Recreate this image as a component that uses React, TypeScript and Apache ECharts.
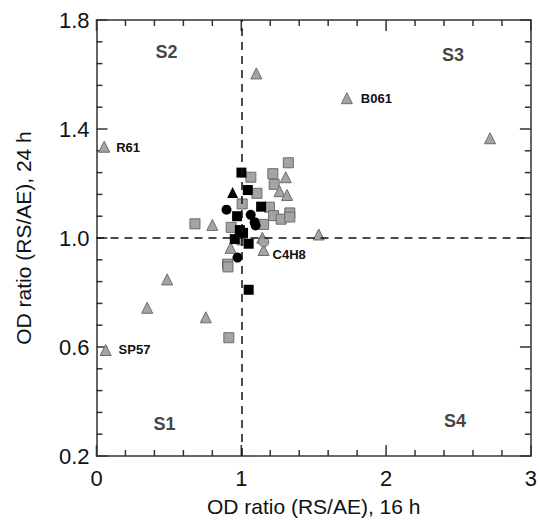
import React, { useEffect, useRef } from "react";
import * as echarts from "echarts";

type Pt = [number, number];

const xTicks = [0, 1, 2, 3];
const yTicks = [0.2, 0.6, 1.0, 1.4, 1.8];
const xMinorTicks = [0.2, 0.4, 0.6, 0.8, 1.2, 1.4, 1.6, 1.8, 2.2, 2.4, 2.6, 2.8];
const yMinorTicks = [
  0.28, 0.36, 0.44, 0.52, 0.68, 0.76, 0.84, 0.92, 1.08, 1.16, 1.24, 1.32, 1.48, 1.56, 1.64, 1.72,
];

const grayTriangles: Pt[] = [
  [0.053, 1.335],
  [0.063, 0.589],
  [1.729, 1.513],
  [1.154, 0.956],
  [1.104, 1.604],
  [2.718, 1.366],
  [1.535, 1.013],
  [0.488, 0.848],
  [0.35, 0.744],
  [0.755, 0.709],
  [0.8, 1.048],
  [0.926, 0.964],
  [1.307, 1.223],
  [1.264, 1.172],
  [1.316, 1.158],
  [1.145, 1.001],
];
const grayTriangleLabels: Record<number, string> = { 0: "R61", 1: "SP57", 2: "B061", 3: "C4H8" };

const grayCircles: Pt[] = [[1.155, 0.986]];

const graySquares: Pt[] = [
  [1.066, 1.223],
  [1.325, 1.276],
  [1.218, 1.236],
  [1.227, 1.197],
  [1.108, 1.164],
  [1.006, 1.125],
  [1.194, 1.113],
  [1.223, 1.082],
  [1.275, 1.069],
  [1.335, 1.092],
  [1.335, 1.077],
  [1.154, 1.05],
  [0.68, 1.052],
  [0.93, 1.039],
  [1.006, 0.993],
  [0.905, 0.904],
  [0.908, 0.894],
  [0.914, 0.634],
];

const blackSquares: Pt[] = [
  [1.001, 1.24],
  [1.045, 1.176],
  [1.137, 1.115],
  [0.971, 1.08],
  [0.99, 1.029],
  [1.012, 1.019],
  [0.955, 0.996],
  [1.051, 0.979],
  [1.051, 0.81],
];

const blackCircles: Pt[] = [
  [0.898, 1.104],
  [1.065, 1.085],
  [1.092, 1.058],
  [1.099, 1.046],
  [0.974, 0.928],
];

const blackTriangles: Pt[] = [[0.94, 1.167]];

const quadrantNames = ["S1", "S2", "S3", "S4"];
const quadrantPos: Pt[] = [
  [0.469, 0.317],
  [0.483, 1.683],
  [2.462, 1.672],
  [2.476, 0.328],
];

const FONT = "'Liberation Sans', Arial, sans-serif";
const GRAY = "#a4a4a4";
const GRAY_BORDER = "#6c6c6c";
const AX = "#333";

function axisParts() {
  return {
    axisLine: { show: true, onZero: false, lineStyle: { color: AX, width: 1.5 } },
    axisTick: { show: false },
    minorTick: { show: false },
    splitLine: { show: false },
  };
}

export default function App() {
  const ref = useRef<HTMLDivElement>(null);
  useEffect(() => {
    if (!ref.current) return;
    const chart = echarts.init(ref.current, undefined, { renderer: "svg" });
    const X0 = xTicks[0];
    const X1 = xTicks[xTicks.length - 1];
    const Y0 = yTicks[0];
    const Y1 = yTicks[yTicks.length - 1];
    // tick data: [value, kind]; kind 0 = x major, 1 = x minor, 2 = y major, 3 = y minor
    const tickData: number[][] = [
      ...xTicks.map((v) => [v, 0]),
      ...xMinorTicks.map((v) => [v, 1]),
      ...yTicks.map((v) => [v, 2]),
      ...yMinorTicks.map((v) => [v, 3]),
    ];
    const tickStyle = { stroke: AX, lineWidth: 1.5 };
    const labelOffsets: Record<string, any> = {
      R61: { position: "right", distance: 6, offset: [0, 1] },
      SP57: { position: "right", distance: 7, offset: [0, 0] },
      B061: { position: "right", distance: 8, offset: [0, 0] },
      C4H8: { position: "right", distance: 3, offset: [0, 5] },
    };
    const option: any = {
      animation: false,
      grid: { left: 96.5, right: 6, top: 20, bottom: 67 },
      xAxis: [
        {
          type: "value",
          min: X0,
          max: X1,
          interval: 1,
          name: "OD ratio (RS/AE), 16 h",
          nameLocation: "middle",
          nameGap: 40,
          nameTextStyle: { fontFamily: FONT, fontSize: 21, color: "#111" },
          ...axisParts(),
          axisLabel: { fontFamily: FONT, fontSize: 22, color: "#111", margin: 11 },
        },
        {
          type: "value",
          position: "top",
          min: X0,
          max: X1,
          interval: 1,
          ...axisParts(),
          axisLabel: { show: false },
        },
      ],
      yAxis: [
        {
          type: "value",
          min: Y0,
          max: Y1,
          interval: 0.4,
          name: "OD ratio (RS/AE), 24 h",
          nameLocation: "middle",
          nameGap: 63,
          nameTextStyle: { fontFamily: FONT, fontSize: 21, color: "#111" },
          ...axisParts(),
          axisLabel: {
            fontFamily: FONT,
            fontSize: 22,
            color: "#111",
            margin: 7,
            formatter: (v: number) => v.toFixed(1),
          },
        },
        {
          type: "value",
          position: "right",
          min: Y0,
          max: Y1,
          interval: 0.4,
          ...axisParts(),
          axisLabel: { show: false },
        },
      ],
      series: [
        {
          type: "custom",
          silent: true,
          clip: false,
          z: 1,
          data: tickData,
          renderItem: (_params: any, api: any) => {
            const v = api.value(0);
            const kind = api.value(1);
            const len = kind === 0 || kind === 2 ? 11 : 6;
            if (kind === 0 || kind === 1) {
              const b = api.coord([v, Y0]);
              const t = api.coord([v, Y1]);
              return {
                type: "group",
                children: [
                  { type: "line", shape: { x1: b[0], y1: b[1], x2: b[0], y2: b[1] - len }, style: tickStyle },
                  { type: "line", shape: { x1: t[0], y1: t[1], x2: t[0], y2: t[1] + len }, style: tickStyle },
                ],
              };
            }
            const l = api.coord([X0, v]);
            const r = api.coord([X1, v]);
            return {
              type: "group",
              children: [
                { type: "line", shape: { x1: l[0], y1: l[1], x2: l[0] + len, y2: l[1] }, style: tickStyle },
                { type: "line", shape: { x1: r[0], y1: r[1], x2: r[0] - len, y2: r[1] }, style: tickStyle },
              ],
            };
          },
        },
        {
          type: "scatter",
          data: [],
          markLine: {
            silent: true,
            symbol: "none",
            label: { show: false },
            lineStyle: { color: "#111", type: [8, 6], width: 1.5 },
            data: [{ xAxis: 1 }, { yAxis: 1 }],
          },
        },
        {
          type: "scatter",
          symbol: "rect",
          symbolSize: 10,
          itemStyle: { color: GRAY, borderColor: GRAY_BORDER, borderWidth: 1, opacity: 1 },
          data: graySquares,
        },
        {
          type: "scatter",
          symbol: "triangle",
          symbolSize: 11,
          itemStyle: { color: GRAY, borderColor: GRAY_BORDER, borderWidth: 1, opacity: 1 },
          data: grayTriangles.map((p, i) => {
            const name = grayTriangleLabels[i];
            if (!name) return p;
            return {
              value: p,
              name,
              label: {
                show: true,
                formatter: name,
                fontFamily: FONT,
                fontWeight: "bold",
                fontSize: 13,
                color: "#111",
                ...labelOffsets[name],
              },
            };
          }),
        },
        {
          type: "scatter",
          symbol: "circle",
          symbolSize: 10,
          itemStyle: { color: GRAY, borderColor: GRAY_BORDER, borderWidth: 1, opacity: 1 },
          data: grayCircles,
        },
        {
          type: "scatter",
          symbol: "rect",
          symbolSize: 10,
          itemStyle: { color: "#000", opacity: 1 },
          data: blackSquares,
        },
        {
          type: "scatter",
          symbol: "circle",
          symbolSize: 10,
          itemStyle: { color: "#000", opacity: 1 },
          data: blackCircles,
        },
        {
          type: "scatter",
          symbol: "triangle",
          symbolSize: 11,
          itemStyle: { color: "#000", opacity: 1 },
          data: blackTriangles,
        },
        {
          type: "scatter",
          symbolSize: 0,
          silent: true,
          data: quadrantPos.map((p, i) => ({ value: p, name: quadrantNames[i] })),
          label: {
            show: true,
            position: "inside",
            formatter: (pp: any) => pp.name,
            fontFamily: FONT,
            fontWeight: "bold",
            fontSize: 18,
            color: "#111",
          },
        },
      ],
    };
    chart.setOption(option);
    return () => chart.dispose();
  }, []);
  return (
    <div
      ref={ref}
      style={{ position: "absolute", left: 0, top: 0, width: 540, height: 523 }}
    />
  );
}
